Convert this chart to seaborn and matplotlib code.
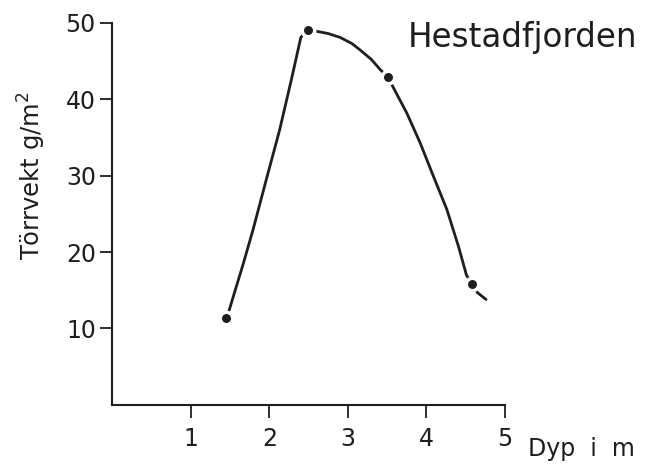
import pandas as pd
import matplotlib.pyplot as plt
import seaborn as sns

# ---- values ----
depth_pts = [1.45, 2.49, 3.51, 4.58]
weight_pts = [11.4, 49.1, 42.9, 15.8]

# points along the hand drawn curve
curve_x = [1.45, 1.49, 1.54, 1.67, 1.79, 1.96, 2.13, 2.28, 2.40, 2.49,
           2.60, 2.75, 2.90, 3.05, 3.15, 3.30, 3.41, 3.51, 3.57, 3.75,
           3.92, 4.09, 4.26, 4.41, 4.51, 4.58, 4.65, 4.76]
curve_y = [11.4, 12.5, 14.2, 18.6, 22.9, 29.5, 36.0, 42.6, 48.1, 49.1,
           48.9, 48.6, 48.1, 47.3, 46.5, 45.2, 43.9, 42.9, 41.7, 38.2,
           34.3, 29.9, 25.6, 20.7, 17.0, 15.8, 14.7, 13.8]

x_ticks = [1, 2, 3, 4, 5]
y_ticks = [10, 20, 30, 40, 50]

pts = pd.DataFrame({'dyp': depth_pts, 'vekt': weight_pts})
curve = pd.DataFrame({'dyp': curve_x, 'vekt': curve_y})

sns.set_theme(style="ticks")
plt.rcParams['font.family'] = ['DejaVu Sans']
ink = '#1e1e1e'

fig = plt.figure(figsize=(6.54, 4.67), dpi=100)
ax = fig.add_axes([0.172, 0.133, 0.600, 0.818])

sns.lineplot(data=curve, x='dyp', y='vekt', sort=False, color=ink, lw=2.0, ax=ax, zorder=2)
sns.scatterplot(data=pts, x='dyp', y='vekt', color=ink, s=81, edgecolor='white',
                linewidth=2.5, ax=ax, zorder=3, clip_on=False)

ax.set_xlim(0, 5)
ax.set_ylim(0, 50)
ax.set_xticks(x_ticks)
ax.set_yticks(y_ticks)
ax.set_xticklabels([str(t) for t in x_ticks])
ax.set_yticklabels([str(t) for t in y_ticks])
sns.despine(ax=ax)
for s in ['left', 'bottom']:
    ax.spines[s].set_linewidth(1.5)
    ax.spines[s].set_color(ink)
ax.tick_params(axis='both', direction='out', length=9, width=1.3, colors=ink, labelsize=17)
ax.tick_params(axis='y', pad=3)
ax.tick_params(axis='x', pad=7)

ax.set_xlabel('')
ax.set_ylabel('Törrvekt g/m$^2$', fontsize=17.5, color=ink)
ax.yaxis.set_label_coords(-0.165, 0.6)

ax.text(5.3, -0.085, 'Dyp  i  m', transform=ax.get_xaxis_transform(), fontsize=17,
        color=ink, ha='left', va='top', clip_on=False)
fig.text(0.624, 0.899, 'Hestadfjorden', fontsize=23.5, color=ink, ha='left', va='baseline')

fig.savefig('out.png', dpi=100)
